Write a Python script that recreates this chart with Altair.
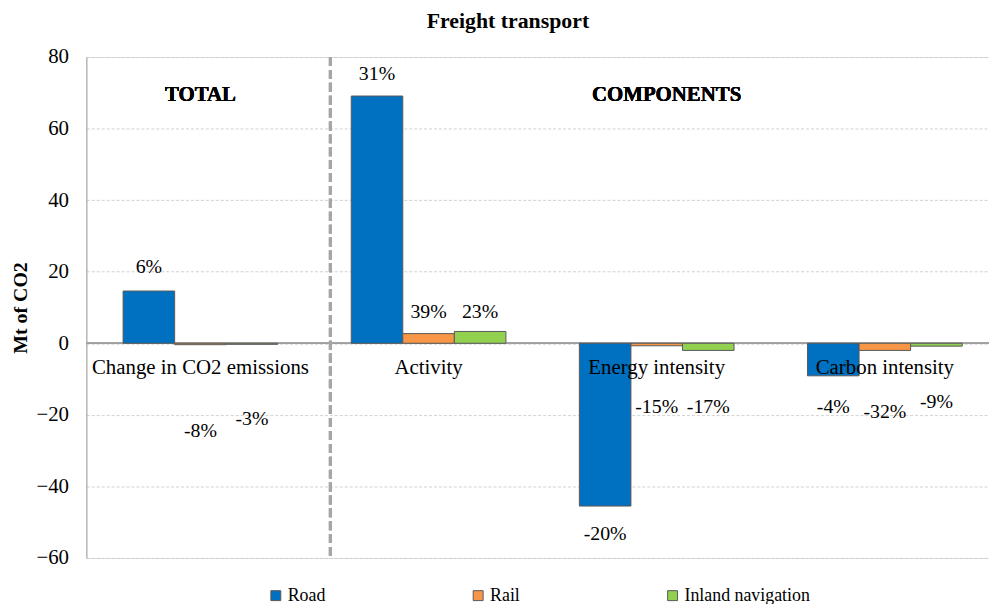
import altair as alt
import pandas as pd

categories = ["Change in CO2 emissions", "Activity", "Energy intensity", "Carbon intensity"]
modes = ["Road", "Rail", "Inland navigation"]
colors = ["#0070C0", "#F79646", "#92D050"]

road = [14.6, 69.1, -45.5, -9.1]
rail = [-0.4, 2.7, -0.7, -2.0]
inland = [-0.3, 3.3, -2.0, -0.8]

road_pct = ["6%", "31%", "-20%", "-4%"]
rail_pct = ["-8%", "39%", "-15%", "-32%"]
inland_pct = ["-3%", "23%", "-17%", "-9%"]

# where the percentage labels sit (Mt of CO2), as placed in the original
road_lab = [21.3, 75.3, -53.4, -17.7]
rail_lab = [-24.6, 8.6, -17.7, -19.1]
inland_lab = [-21.3, 8.6, -17.7, -16.3]

rows = []
for mode, vals, pcts, labs in [("Road", road, road_pct, road_lab),
                               ("Rail", rail, rail_pct, rail_lab),
                               ("Inland navigation", inland, inland_pct, inland_lab)]:
    for c, v, p, l in zip(categories, vals, pcts, labs):
        rows.append({"category": c, "mode": mode, "value": v, "pct": p, "lab": l})
df = pd.DataFrame(rows)
cat_df = pd.DataFrame({"category": categories})

FONT = "Liberation Serif"

x_enc = alt.X("category:N", sort=categories, axis=None,
              scale=alt.Scale(paddingInner=0.322, paddingOuter=0.161))
xo_enc = alt.XOffset("mode:N", sort=modes, scale=alt.Scale(paddingInner=0, paddingOuter=0))
y_scale = alt.Scale(domain=[-60, 80], nice=False, zero=False)

bars = alt.Chart(df).mark_bar(stroke="#595959", strokeWidth=1).encode(
    x=x_enc,
    xOffset=xo_enc,
    y=alt.Y("value:Q", scale=y_scale,
            axis=alt.Axis(values=[-60, -40, -20, 0, 20, 40, 60, 80], title="Mt of CO2",
                          grid=True, gridDash=[3, 2], gridColor="#d0d0d0",
                          domain=True, domainColor="#a0a0a0", ticks=False,
                          labelFont=FONT, labelFontSize=21, labelColor="#000000",
                          labelPadding=18,
                          titleFont=FONT, titleFontSize=20, titleFontWeight="bold",
                          titleColor="#000000", titlePadding=6)),
    color=alt.Color("mode:N", sort=modes, scale=alt.Scale(domain=modes, range=colors),
                    legend=alt.Legend(title=None, orient="none", direction="horizontal",
                                      legendX=182, legendY=534, columnPadding=145,
                                      symbolType="square", symbolSize=100,
                                      symbolStrokeColor="#595959", symbolStrokeWidth=1,
                                      symbolOpacity=1,
                                      labelFont=FONT, labelFontSize=18, labelColor="#000000",
                                      labelOffset=3)),
)

zero = alt.Chart(cat_df).mark_rule(color="#a0a0a0", strokeWidth=1.5).encode(
    y=alt.datum(0, scale=y_scale)
)

labels = alt.Chart(df).mark_text(font=FONT, fontSize=20, color="#000000", baseline="middle").encode(
    x=x_enc, xOffset=xo_enc,
    y=alt.Y("lab:Q", scale=y_scale),
    text="pct:N",
)

cat_labels = alt.Chart(cat_df).mark_text(font=FONT, fontSize=21, color="#000000",
                                         baseline="middle", dy=25).encode(
    x=x_enc,
    y=alt.datum(0),
    text="category:N",
)

divider = alt.Chart(cat_df).mark_rule(color="#a6a6a6", strokeWidth=3, strokeDash=[9, 4]).encode(
    x=alt.value(246), y=alt.value(0), y2=alt.value(505)
)

total_txt = alt.Chart(cat_df).mark_text(font=FONT, fontSize=21, fontWeight="bold",
                                        color="#000000", baseline="middle").encode(
    x=alt.datum("Change in CO2 emissions"), y=alt.datum(69.5), text=alt.value("TOTAL")
)
comp_txt = alt.Chart(cat_df).mark_text(font=FONT, fontSize=21, fontWeight="bold",
                                       color="#000000", baseline="middle", dx=10).encode(
    x=alt.datum("Energy intensity"), y=alt.datum(69.5), text=alt.value("COMPONENTS")
)

chart = alt.layer(zero, bars, labels, cat_labels, divider, total_txt, comp_txt).properties(
    width=920, height=505,
    title=alt.TitleParams("Freight transport", font=FONT, fontSize=22, fontWeight="bold",
                          color="#000000", anchor="middle", offset=13, dx=-35),
    autosize=alt.AutoSizeParams(type="none"),
    padding={"left": 79, "top": 47, "right": -10, "bottom": 44},
).configure_view(stroke=None).configure(background="white")

chart.save("out.html", embed_options={"renderer": "svg", "actions": False})
